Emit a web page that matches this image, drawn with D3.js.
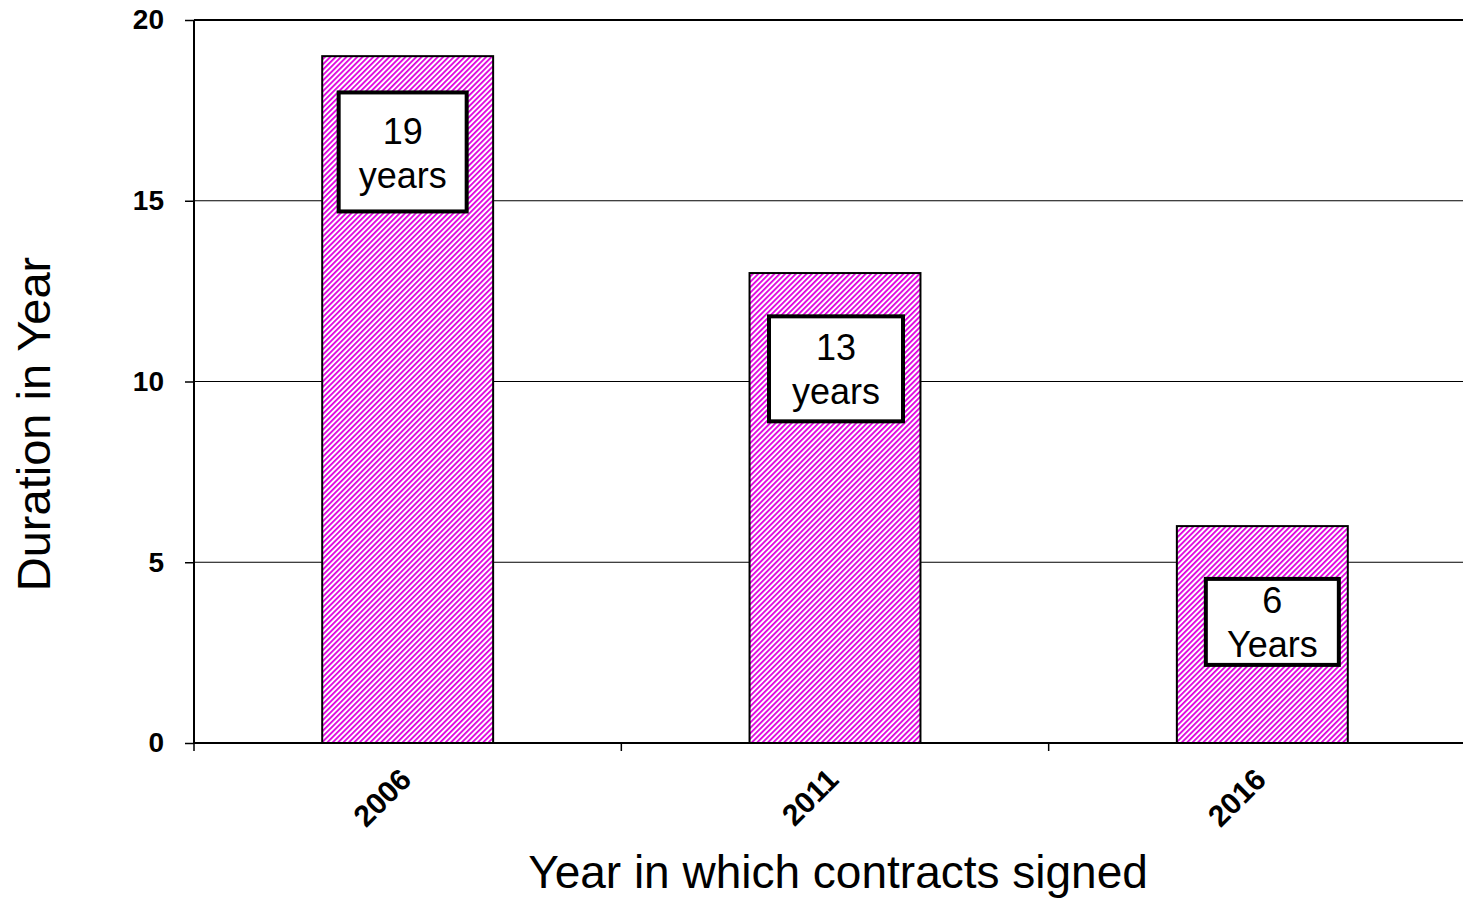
<!DOCTYPE html>
<html>
<head>
<meta charset="utf-8">
<script src="https://cdn.jsdelivr.net/npm/d3@7"></script>
<style>
  body { margin: 0; background: #fff; }
  svg { display: block; font-family: "Liberation Sans", Arial, sans-serif; }
</style>
</head>
<body>
<svg id="chart" width="1463" height="898"></svg>
<script>
// chart data
const years = ['2006', '2011', '2016'];
const durations = [19, 13, 6];
const labelLines = [['19', 'years'], ['13', 'years'], ['6', 'Years']];
const yTicks = [0, 5, 10, 15, 20];

const svg = d3.select('#chart');
const margin = { left: 194, top: 20, right: -13, bottom: 155 };
const width = 1463 - margin.left - margin.right;
const height = 898 - margin.top - margin.bottom;

// Hatch pattern for the bars
const defs = svg.append('defs');
const pat = defs.append('pattern')
    .attr('id', 'hatch')
    .attr('patternUnits', 'userSpaceOnUse')
    .attr('width', 3.8)
    .attr('height', 3.8)
    .attr('patternTransform', 'rotate(45)');
pat.append('rect').attr('width', 3.8).attr('height', 3.8).attr('fill', '#fff');
pat.append('rect').attr('width', 1.8).attr('height', 3.8).attr('fill', '#e000e0');

const g = svg.append('g').attr('transform', `translate(${margin.left},${margin.top})`);

const x = d3.scaleBand().domain(years).range([0, width]).paddingInner(0).paddingOuter(0);
const y = d3.scaleLinear().domain([0, 20]).range([height, 0]);

// Gridlines
g.selectAll('.grid')
    .data(yTicks.filter(d => d > 0))
    .enter().append('line')
    .attr('x1', 0).attr('x2', width)
    .attr('y1', d => y(d)).attr('y2', d => y(d))
    .attr('stroke', '#000')
    .attr('stroke-width', d => d === 20 ? 2 : 1.2);

// Y axis
const yAxis = g.append('g')
    .call(d3.axisLeft(y).tickValues(yTicks).tickSize(9).tickPadding(21));
yAxis.select('.domain').attr('stroke-width', 2).attr('d', `M0,${y(20)}V${height}`);
yAxis.selectAll('.tick line').attr('stroke-width', 1.5);
yAxis.selectAll('text')
    .style('font-size', '28px').style('font-weight', 'bold')
    .style('font-family', '"Liberation Sans", Arial, sans-serif')
    .attr('fill', '#000');

// Bars
const barW = x.bandwidth() * 0.4;
g.selectAll('.bar')
    .data(durations)
    .enter().append('rect')
    .attr('x', (d, i) => x(years[i]) + x.bandwidth() / 2 - barW / 2)
    .attr('y', d => y(d))
    .attr('width', barW)
    .attr('height', d => height - y(d))
    .attr('fill', 'url(#hatch)')
    .attr('stroke', '#000')
    .attr('stroke-width', 2);

// X axis
const xAxis = g.append('g')
    .attr('transform', `translate(0,${height})`)
    .call(d3.axisBottom(x).tickSize(0).tickFormat(''));
xAxis.select('.domain').attr('stroke-width', 2).attr('d', `M0,0H${width}`);
const sepTicks = d3.range(years.length + 1).map(i => i * x.bandwidth());
xAxis.selectAll('.sep')
    .data(sepTicks)
    .enter().append('line')
    .attr('x1', d => d).attr('x2', d => d)
    .attr('y1', 0).attr('y2', 8)
    .attr('stroke', '#000').attr('stroke-width', 1.5);
xAxis.selectAll('.xlab')
    .data(years)
    .enter().append('text')
    .attr('transform', d => `translate(${x(d) + x.bandwidth() / 2 - 2},${31}) rotate(-45)`)
    .attr('text-anchor', 'end')
    .attr('dy', '0.35em')
    .attr('fill', '#000')
    .style('font-size', '30px').style('font-weight', 'bold')
    .style('font-family', '"Liberation Sans", Arial, sans-serif')
    .text(d => d);

// Annotation boxes on the bars
const boxW = [128, 134, 133];
const boxH = [119, 105, 86];
const boxShift = [-5, 1, 10];
durations.forEach((d, i) => {
    const cx = x(years[i]) + x.bandwidth() / 2 + boxShift[i];
    const cy = y(d - 2.65);
    const box = g.append('g');
    box.append('rect')
        .attr('x', cx - boxW[i] / 2)
        .attr('y', cy - boxH[i] / 2)
        .attr('width', boxW[i])
        .attr('height', boxH[i])
        .attr('fill', '#fff')
        .attr('stroke', '#000')
        .attr('stroke-width', 4);
    labelLines[i].forEach((t, j) => {
        box.append('text')
            .attr('x', cx)
            .attr('y', cy + (j === 0 ? -21 : 23))
            .attr('text-anchor', 'middle')
            .attr('dy', '0.35em')
            .style('font-size', '36px')
            .text(t);
    });
});

// Axis titles
svg.append('text')
    .attr('transform', `translate(50,${424}) rotate(-90)`)
    .attr('text-anchor', 'middle')
    .style('font-size', '47px')
    .text('Duration in Year');

svg.append('text')
    .attr('x', 838)
    .attr('y', 888)
    .attr('text-anchor', 'middle')
    .style('font-size', '46px')
    .text('Year in which contracts signed');
</script>
</body>
</html>
